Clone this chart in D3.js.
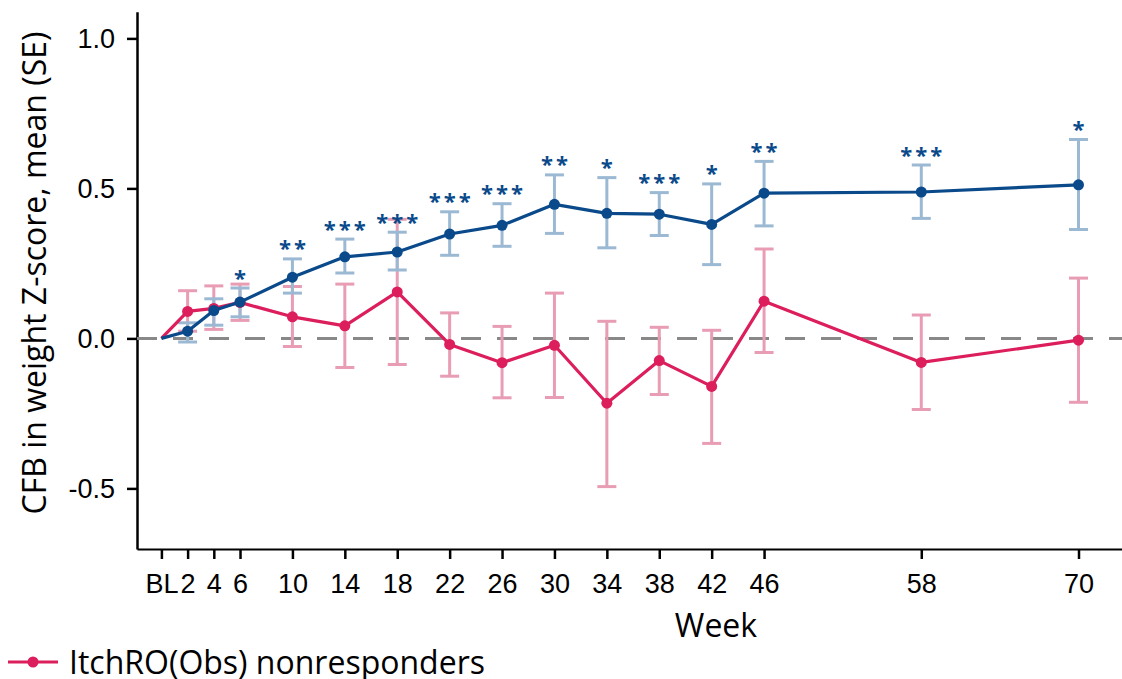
<!DOCTYPE html>
<html>
<head>
<meta charset="utf-8">
<script src="https://cdn.jsdelivr.net/npm/d3@7"></script>
<style>
  html, body { margin: 0; padding: 0; background: #fff; }
  svg { display: block; font-family: "Open Sans", sans-serif; }
</style>
</head>
<body>
<svg id="chart" width="1122" height="679"></svg>
<script>
// ---- data ----
const weekLabels = ["BL", "2", "4", "6", "10", "14", "18", "22", "26", "30", "34", "38", "42", "46", "58", "70"];
const weeks = [0, 2, 4, 6, 10, 14, 18, 22, 26, 30, 34, 38, 42, 46, 58, 70];

// responders (blue)
const respMean  = [0, 0.024, 0.093, 0.121, 0.204, 0.272, 0.288, 0.348, 0.377, 0.447, 0.417, 0.414, 0.380, 0.484, 0.488, 0.512];
const respLower = [null, -0.012, 0.044, 0.072, 0.151, 0.218, 0.228, 0.277, 0.307, 0.350, 0.302, 0.343, 0.246, 0.375, 0.400, 0.363];
const respUpper = [null, 0.052, 0.132, 0.168, 0.265, 0.331, 0.354, 0.422, 0.449, 0.545, 0.536, 0.486, 0.515, 0.590, 0.578, 0.663];
const respSig   = ["", "", "", "*", "**", "***", "***", "***", "***", "**", "*", "***", "*", "**", "***", "*"];

// nonresponders (pink)
const nonMean  = [0, 0.090, 0.100, 0.120, 0.072, 0.042, 0.155, -0.020, -0.081, -0.023, -0.216, -0.074, -0.160, 0.124, -0.080, -0.006];
const nonLower = [null, 0.024, 0.030, 0.060, -0.027, -0.097, -0.087, -0.126, -0.198, -0.197, -0.494, -0.187, -0.350, -0.047, -0.237, -0.213];
const nonUpper = [null, 0.159, 0.175, 0.181, 0.173, 0.181, 0.397, 0.085, 0.040, 0.151, 0.057, 0.037, 0.027, 0.298, 0.078, 0.201];

const yTicks = [-0.5, 0, 0.5, 1.0];

const legendLabel = "ItchRO(Obs) nonresponders";
const xTitle = "Week";
const yTitle = "CFB in weight Z-score, mean (SE)";

// ---- styles ----
const C = {
  blue: "#0a4a8a", blueErr: "#9cb9d4",
  pink: "#dc1e5c", pinkErr: "#e89db4",
  zero: "#888888"
};

const svg = d3.select("#chart");
const x = d3.scaleLinear().domain([-1.863, 73.32]).range([137, 1122]);
const y = d3.scaleLinear().domain([-0.702, 1.089]).range([549, 11.7]);

// axes
const xAxis = d3.axisBottom(x)
  .tickValues(weeks)
  .tickFormat((d, i) => weekLabels[i])
  .tickSize(10).tickSizeOuter(0).tickPadding(15);
const gx = svg.append("g").attr("transform", `translate(0,${y.range()[0]})`).call(xAxis);
gx.select(".domain").attr("stroke", "#000").attr("stroke-width", 2.2);
gx.selectAll(".tick line").attr("stroke", "#000").attr("stroke-width", 2.5);
gx.selectAll(".tick text").attr("font-size", 27).attr("fill", "#000");

const yAxis = d3.axisLeft(y)
  .tickValues(yTicks)
  .tickFormat(d => d.toFixed(1))
  .tickSize(10).tickSizeOuter(0).tickPadding(12);
const gy = svg.append("g").attr("transform", `translate(${x.range()[0]},0)`).call(yAxis);
gy.select(".domain").attr("stroke", "#000").attr("stroke-width", 2.5);
gy.selectAll(".tick line").attr("stroke", "#000").attr("stroke-width", 2.5);
gy.selectAll(".tick text").attr("font-size", 27).attr("fill", "#000");

// zero reference
svg.append("line")
  .attr("x1", x.range()[0]).attr("x2", x.range()[1])
  .attr("y1", y(0)).attr("y2", y(0))
  .attr("stroke", C.zero).attr("stroke-width", 3)
  .attr("stroke-dasharray", "20,16");

// error bars
function errorBars(lower, upper, color) {
  const g = svg.append("g").attr("stroke", color).attr("stroke-width", 3).attr("fill", "none");
  const capW = 9.5;
  weeks.forEach((w, i) => {
    if (lower[i] == null) return;
    const cx = x(w);
    g.append("line").attr("x1", cx).attr("x2", cx).attr("y1", y(lower[i])).attr("y2", y(upper[i]));
    g.append("line").attr("x1", cx - capW).attr("x2", cx + capW).attr("y1", y(lower[i])).attr("y2", y(lower[i]));
    g.append("line").attr("x1", cx - capW).attr("x2", cx + capW).attr("y1", y(upper[i])).attr("y2", y(upper[i]));
  });
}
errorBars(nonLower, nonUpper, C.pinkErr);
errorBars(respLower, respUpper, C.blueErr);

// lines + markers
function series(mean, color) {
  const line = d3.line().x((d, i) => x(weeks[i])).y(d => y(d));
  svg.append("path").datum(mean)
    .attr("d", line).attr("fill", "none")
    .attr("stroke", color).attr("stroke-width", 3.2).attr("stroke-linejoin", "round");
  svg.append("g").selectAll("circle")
    .data(mean.map((v, i) => ({ v, w: weeks[i] })).filter(d => d.w !== 0))
    .join("circle")
    .attr("cx", d => x(d.w)).attr("cy", d => y(d.v)).attr("r", 5.5)
    .attr("fill", color);
}
series(nonMean, C.pink);
series(respMean, C.blue);

// significance stars
const sg = svg.append("g").attr("fill", C.blue).attr("font-size", 22).attr("font-weight", "bold").attr("text-anchor", "middle");
weeks.forEach((w, i) => {
  const n = respSig[i].length;
  for (let k = 0; k < n; k++) {
    sg.append("text")
      .attr("x", x(w) + (k - (n - 1) / 2) * 15)
      .attr("y", y(respUpper[i]) - 2.5)
      .text("*");
  }
});

// axis titles
svg.append("text").attr("x", 716).attr("y", 637)
  .attr("text-anchor", "middle").attr("font-size", 32).attr("fill", "#000").text(xTitle);
svg.append("text").attr("transform", "translate(46,273) rotate(-90)")
  .attr("text-anchor", "middle").attr("font-size", 32).attr("fill", "#000").text(yTitle);

// legend
const lg = svg.append("g");
lg.append("line").attr("x1", 8).attr("x2", 58).attr("y1", 662).attr("y2", 662)
  .attr("stroke", C.pink).attr("stroke-width", 3);
lg.append("circle").attr("cx", 33).attr("cy", 662).attr("r", 5.5).attr("fill", C.pink);
lg.append("text").attr("x", 69).attr("y", 674).attr("font-size", 32).attr("fill", "#000").text(legendLabel);
</script>
</body>
</html>
